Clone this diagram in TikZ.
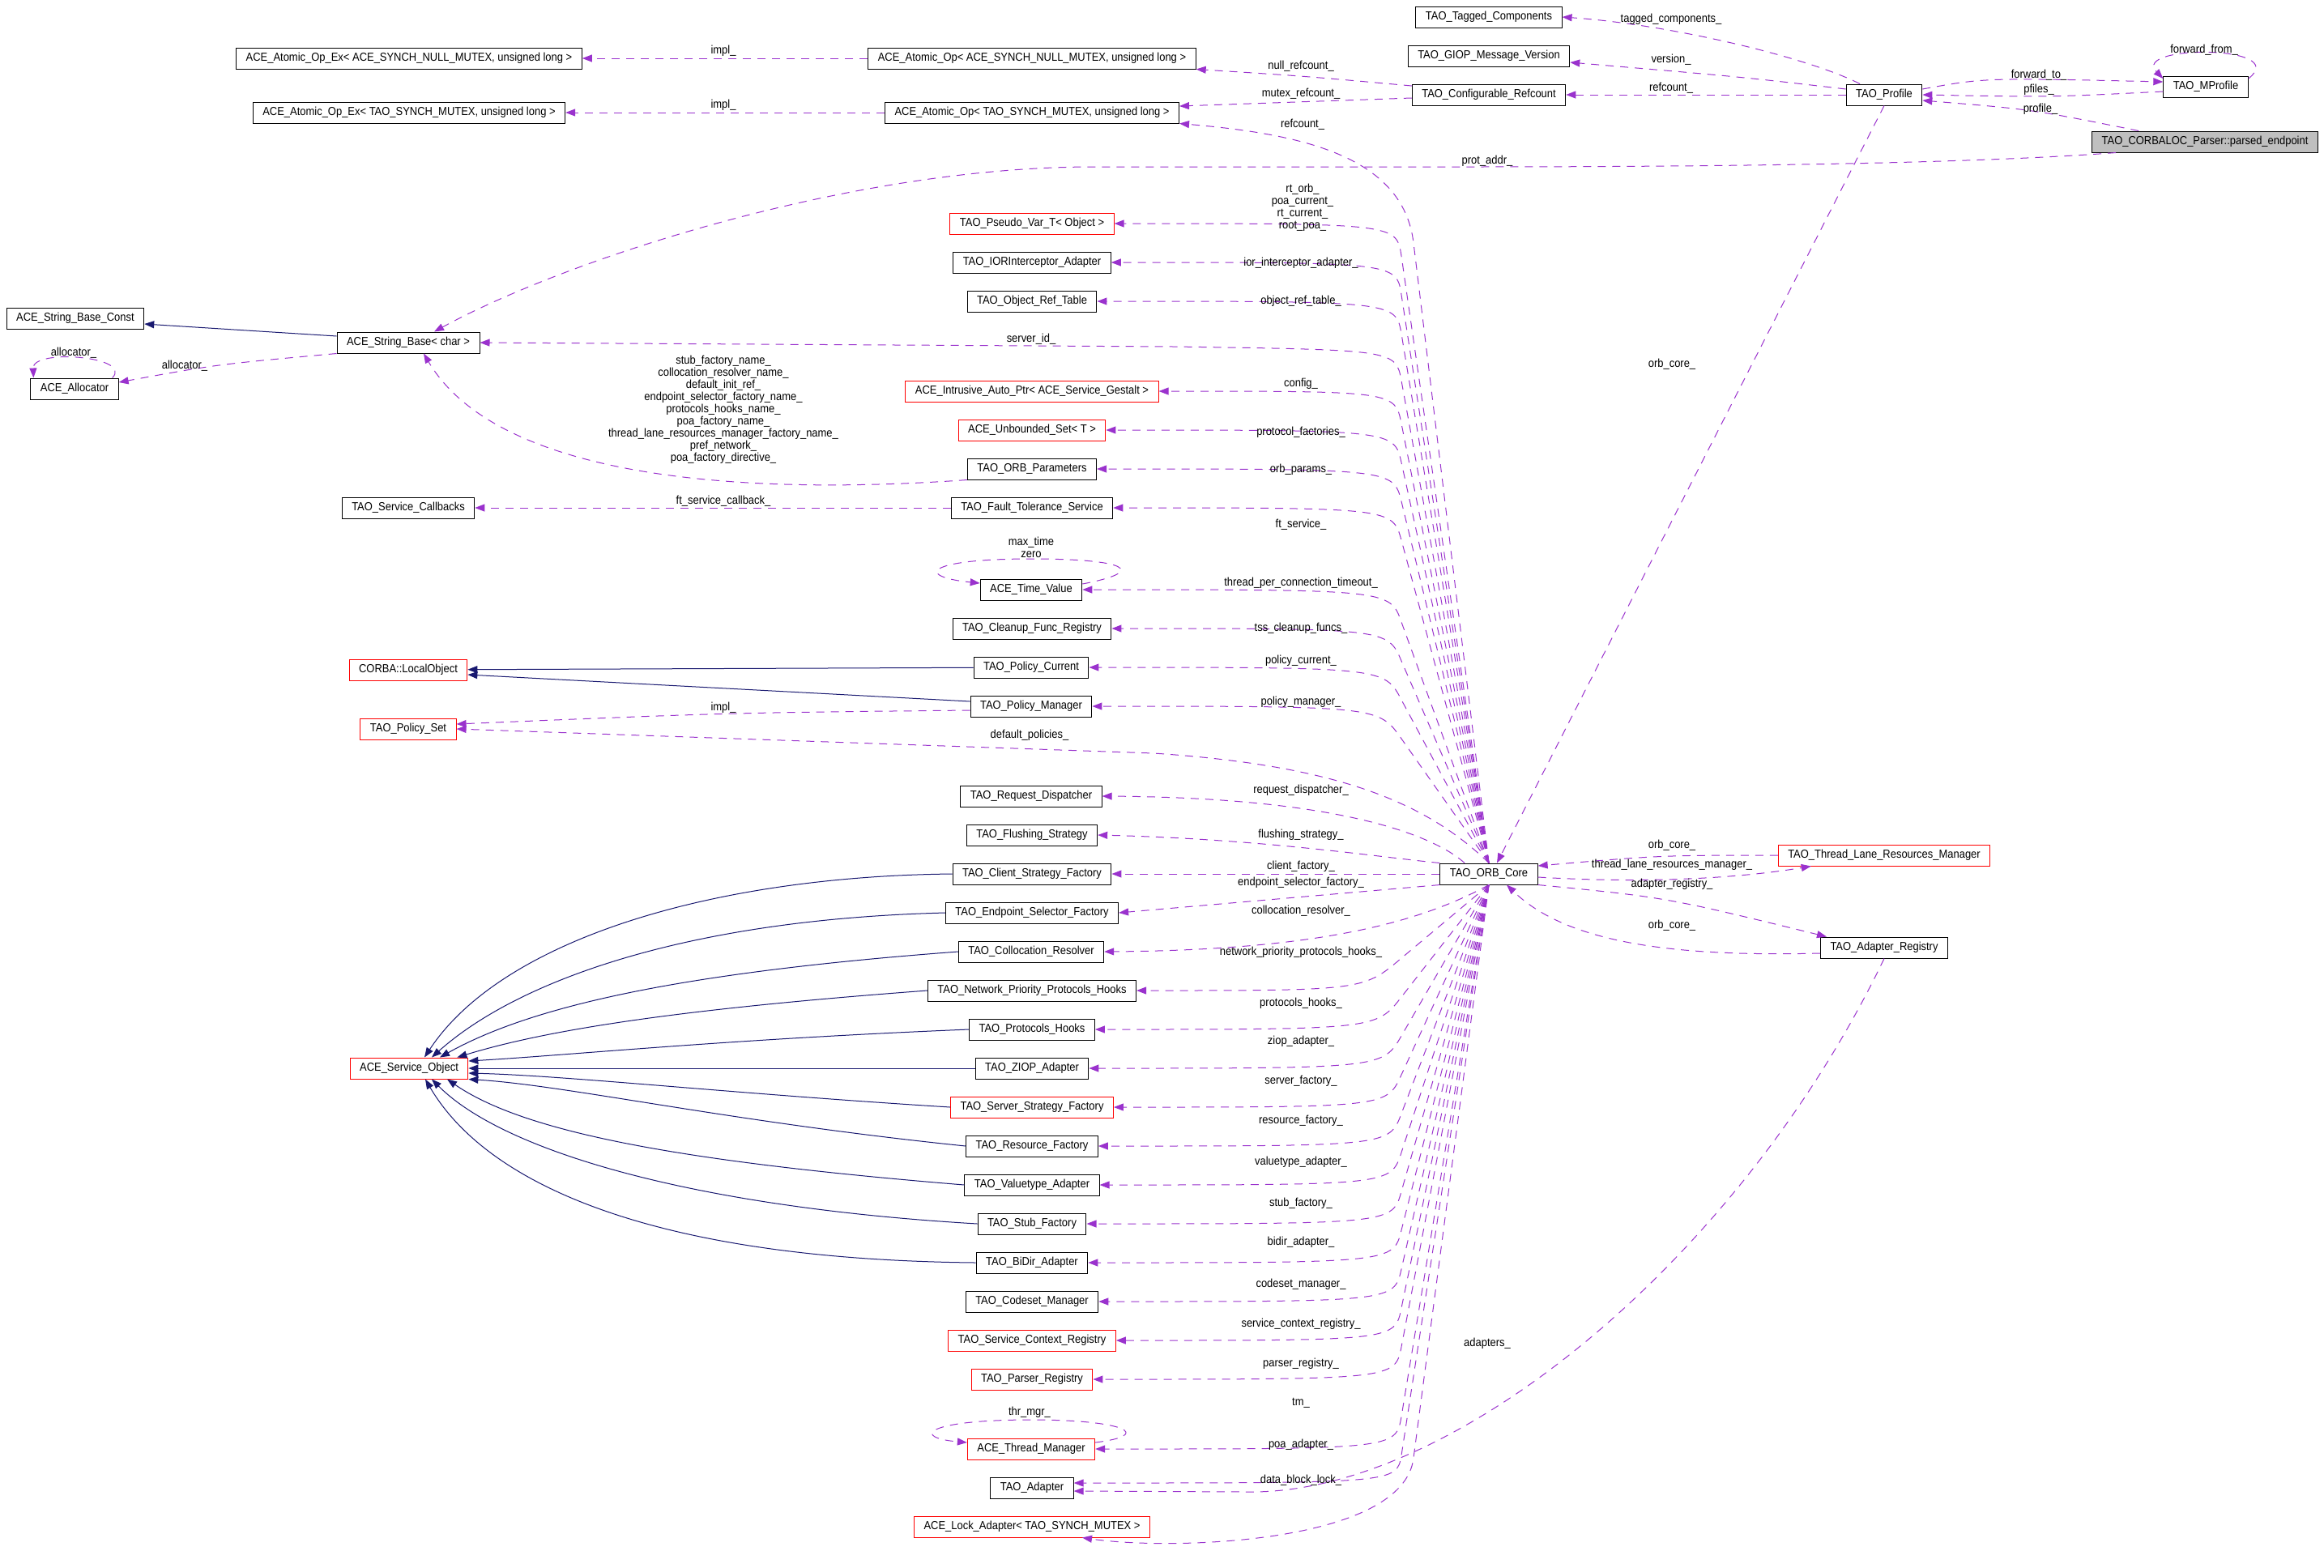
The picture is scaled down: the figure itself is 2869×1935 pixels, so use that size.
\documentclass[tikz,border=0pt]{standalone}
\usepackage{fontspec}
\setmainfont{Liberation Sans}[FakeStretch=0.9]
\usepackage{tikz}
\usetikzlibrary{arrows.meta, calc}

\definecolor{usecol}{HTML}{9A32CD}
\definecolor{inhcol}{HTML}{191970}
\definecolor{grey75}{HTML}{BFBFBF}

\begin{document}
\begin{tikzpicture}[
        x=0.5pt, y=-0.5pt,
        cls/.style={
            rectangle,
            draw=black,
            fill=white,
            line width=0.5pt,
            minimum height=13pt,
            inner xsep=6pt,
            inner ysep=0pt,
            font=\fontsize{7.2}{7.5}\selectfont
        },
        ext/.style={cls, draw=red},
        focus/.style={cls, fill=grey75},
        member/.style={draw=usecol, line width=0.5pt, dash pattern=on 5pt off 4pt,
            -{Triangle[length=6pt, width=4.5pt]}},
        inh/.style={draw=inhcol, line width=0.5pt, -{Triangle[length=6pt, width=4.5pt]}},
        lbl/.style={inner sep=0pt, align=center, font=\fontsize{7.2}{7.5}\selectfont}
    ]
    \useasboundingbox (0,0) rectangle (2869,1935);

    % Classes, left
    \node[cls] (strconst) at (93,393) {ACE\_String\_Base\_Const};
    \node[cls] (alloc) at (92,480) {ACE\_Allocator};
    \node[cls] (atomexnull) at (505,72) {ACE\_Atomic\_Op\_Ex< ACE\_SYNCH\_NULL\_MUTEX, unsigned long >};
    \node[cls] (atomextao) at (505,139) {ACE\_Atomic\_Op\_Ex< TAO\_SYNCH\_MUTEX, unsigned long >};
    \node[cls] (strbase) at (504,423) {ACE\_String\_Base< char >};
    \node[cls] (svccb) at (504,627) {TAO\_Service\_Callbacks};
    \node[ext] (localobj) at (504,827) {CORBA::LocalObject};
    \node[ext] (policyset) at (504,900) {TAO\_Policy\_Set};
    \node[ext] (svcobj) at (505,1319) {ACE\_Service\_Object};

    % Classes, middle
    \node[cls] (atomnull) at (1274,72) {ACE\_Atomic\_Op< ACE\_SYNCH\_NULL\_MUTEX, unsigned long >};
    \node[cls] (atomtao) at (1274,139) {ACE\_Atomic\_Op< TAO\_SYNCH\_MUTEX, unsigned long >};
    \node[ext] (pseudovar) at (1274,276) {TAO\_Pseudo\_Var\_T< Object >};
    \node[cls] (iorint) at (1274,324) {TAO\_IORInterceptor\_Adapter};
    \node[cls] (objref) at (1274,372) {TAO\_Object\_Ref\_Table};
    \node[ext] (gestalt) at (1274,483) {ACE\_Intrusive\_Auto\_Ptr< ACE\_Service\_Gestalt >};
    \node[ext] (unbset) at (1274,531) {ACE\_Unbounded\_Set< T >};
    \node[cls] (orbparams) at (1274,579) {TAO\_ORB\_Parameters};
    \node[cls] (ftservice) at (1274,627) {TAO\_Fault\_Tolerance\_Service};
    \node[cls] (timeval) at (1273,728) {ACE\_Time\_Value};
    \node[cls] (cleanup) at (1274,776) {TAO\_Cleanup\_Func\_Registry};
    \node[cls] (polcur) at (1273,824) {TAO\_Policy\_Current};
    \node[cls] (polmgr) at (1273,872) {TAO\_Policy\_Manager};
    \node[cls] (reqdisp) at (1273,983) {TAO\_Request\_Dispatcher};
    \node[cls] (flushing) at (1274,1031) {TAO\_Flushing\_Strategy};
    \node[cls] (clientfac) at (1274,1079) {TAO\_Client\_Strategy\_Factory};
    \node[cls] (endpointfac) at (1274,1127) {TAO\_Endpoint\_Selector\_Factory};
    \node[cls] (colloc) at (1273,1175) {TAO\_Collocation\_Resolver};
    \node[cls] (netprio) at (1274,1223) {TAO\_Network\_Priority\_Protocols\_Hooks};
    \node[cls] (prothooks) at (1274,1271) {TAO\_Protocols\_Hooks};
    \node[cls] (ziop) at (1274,1319) {TAO\_ZIOP\_Adapter};
    \node[ext] (serverfac) at (1274,1367) {TAO\_Server\_Strategy\_Factory};
    \node[cls] (resfac) at (1274,1415) {TAO\_Resource\_Factory};
    \node[cls] (valuetype) at (1274,1463) {TAO\_Valuetype\_Adapter};
    \node[cls] (stubfac) at (1274,1511) {TAO\_Stub\_Factory};
    \node[cls] (bidir) at (1274,1559) {TAO\_BiDir\_Adapter};
    \node[cls] (codeset) at (1274,1607) {TAO\_Codeset\_Manager};
    \node[ext] (svcctx) at (1274,1655) {TAO\_Service\_Context\_Registry};
    \node[ext] (parserreg) at (1274,1703) {TAO\_Parser\_Registry};
    \node[ext] (thrmgr) at (1273,1789) {ACE\_Thread\_Manager};
    \node[cls] (adapter) at (1274,1837) {TAO\_Adapter};
    \node[ext] (lockadapter) at (1274,1885) {ACE\_Lock\_Adapter< TAO\_SYNCH\_MUTEX >};

    % Classes, right
    \node[cls] (tagged) at (1838,21) {TAO\_Tagged\_Components};
    \node[cls] (giopver) at (1838,69) {TAO\_GIOP\_Message\_Version};
    \node[cls] (confref) at (1838,117) {TAO\_Configurable\_Refcount};
    \node[cls] (orbcore) at (1838,1079) {TAO\_ORB\_Core};
    \node[cls] (profile) at (2326,117) {TAO\_Profile};
    \node[ext] (tlrm) at (2326,1056) {TAO\_Thread\_Lane\_Resources\_Manager};
    \node[cls] (adapterreg) at (2326,1170) {TAO\_Adapter\_Registry};
    \node[cls] (mprofile) at (2723,107) {TAO\_MProfile};
    \node[focus] (parsed) at (2722,175) {TAO\_CORBALOC\_Parser::parsed\_endpoint};

    % Inheritance
    \draw[inh] ($(strbase.west)+(0,-8)$) -- ($(strconst.east)+(0,7)$);
    \draw[inh] (polcur) -- (localobj);
    \draw[inh] ($(polmgr.west)+(0,-6)$) -- ($(localobj.east)+(0,6)$);
    \draw[inh] (clientfac.west) .. controls (880,1082) and (620,1160) .. ($(svcobj.north)+(19,0)$);
    \draw[inh] (endpointfac.west) .. controls (850,1135) and (640,1210) .. ($(svcobj.north)+(28,0)$);
    \draw[inh] (colloc.west) .. controls (850,1200) and (660,1240) .. ($(svcobj.north)+(38,0)$);
    \draw[inh] (netprio.west) .. controls (850,1245) and (680,1270) .. ($(svcobj.north east)+(-14,0)$);
    \draw[inh] (prothooks.west) .. controls (900,1283) and (700,1303) .. ($(svcobj.east)+(0,-9)$);
    \draw[inh] (ziop) -- (svcobj);
    \draw[inh] (serverfac.west) .. controls (900,1350) and (700,1328) .. ($(svcobj.east)+(0,6)$);
    \draw[inh] (resfac.west) .. controls (900,1385) and (700,1340) .. (svcobj.south east);
    \draw[inh] (valuetype.west) .. controls (850,1435) and (650,1400) .. ($(svcobj.south)+(47,0)$);
    \draw[inh] (stubfac.west) .. controls (850,1490) and (620,1420) .. ($(svcobj.south)+(28,0)$);
    \draw[inh] (bidir.west) .. controls (800,1555) and (600,1460) .. ($(svcobj.south)+(20,0)$);

    % Members, top
    \draw[member] (atomnull) -- (atomexnull);
    \draw[member] (atomtao) -- (atomextao);
    \draw[member] ($(confref.west)+(0,-11)$) .. controls (1610,94) .. (atomnull.south east);
    \draw[member] ($(confref.west)+(0,4)$) -- ($(atomtao.east)+(0,-8)$);
    \draw[member] (orbcore.north) -- (1745,300) .. controls (1732,190) and (1600,165) .. (atomtao.south east);
    \draw[member] ($(profile.north)+(-30,0)$) .. controls (2230,70) and (2060,30) .. (tagged.east);
    \draw[member] ($(profile.west)+(0,-7)$) .. controls (2150,95) .. ($(giopver.east)+(0,8)$);
    \draw[member] (profile) -- (confref);
    \draw[member] ($(mprofile.east)+(0,-10)$) .. controls (2830,55) and (2630,55) .. ($(mprofile.west)+(0,-10)$);
    \draw[member] ($(profile.east)+(0,-7)$) .. controls (2450,96) .. ($(mprofile.west)+(0,-6)$);
    \draw[member] ($(mprofile.west)+(0,6)$) .. controls (2530,120) .. (profile.east);
    \draw[member] ($(parsed.north west)+(58,0)$) .. controls (2508,135) .. ($(profile.east)+(0,7)$);
    \draw[member] ($(parsed.south west)+(30,0)$) .. controls (2460,200) and (2200,206) .. (1800,206)
        -- (1350,206) .. controls (1050,206) and (700,320) .. ($(strbase.north)+(32,0)$);
    \draw[member] (profile.south) -- ($(orbcore.north)+(10,0)$);

    % Members, left
    \draw[member] (strbase.south west) .. controls (267,450) .. ($(alloc.east)+(0,-8)$);
    \draw[member] ($(alloc.north east)+(-8,0)$) .. controls (165,440) and (40,430) .. ($(alloc.north west)+(4,0)$);
    \draw[member] (orbparams.south west) .. controls (950,610) and (620,600) .. ($(strbase.south)+(19,0)$);
    \draw[member] (orbcore.north) -- (1730,470) .. controls (1723,432) .. (1450,428) -- (strbase.east);
    \draw[member] (ftservice) -- (svccb);
    \draw[member] ($(polmgr.west)+(0,5)$) .. controls (900,880) .. ($(policyset.east)+(0,-6)$);
    \draw[member] (orbcore.north) .. controls (1760,990) and (1650,945) .. (1424,930) -- (policyset.east);

    % Members of TAO_ORB_Core, above
    \draw[member] (orbcore.north) -- (1730,316) .. controls (1724,276) .. (pseudovar.east);
    \draw[member] (orbcore.north) -- (1730,364) .. controls (1724,324) .. (iorint.east);
    \draw[member] (orbcore.north) -- (1730,412) .. controls (1723,372) .. (objref.east);
    \draw[member] (orbcore.north) -- (1730,523) .. controls (1722,483) .. (gestalt.east);
    \draw[member] (orbcore.north) -- (1730,571) .. controls (1721,531) .. (unbset.east);
    \draw[member] (orbcore.north) -- (1730,619) .. controls (1720,579) .. (orbparams.east);
    \draw[member] (orbcore.north) -- (1730,667) .. controls (1719,627) .. (ftservice.east);
    \draw[member] (orbcore.north) -- (1730,768) .. controls (1716,728) .. (timeval.east);
    \draw[member] (orbcore.north) -- (1730,816) .. controls (1713,776) .. (cleanup.east);
    \draw[member] (orbcore.north) -- (1730,864) .. controls (1709,824) .. (polcur.east);
    \draw[member] (orbcore.north) -- (1730,912) .. controls (1702,872) .. (polmgr.east);
    \draw[member] ($(orbcore.north)+(-30,0)$) .. controls (1780,1040) and (1680,985) .. (reqdisp.east);
    \draw[member] (orbcore.north west) .. controls (1700,1058) and (1560,1036) .. (flushing.east);
    \draw[member] (orbcore) -- (clientfac);

    % Members of TAO_ORB_Core, below
    \draw[member] (orbcore.south west) -- (endpointfac.east);
    \draw[member] (orbcore.south) .. controls (1760,1135) and (1640,1173) .. (colloc.east);
    \draw[member] (orbcore.south) -- (1730,1183) .. controls (1683,1223) .. (netprio.east);
    \draw[member] (orbcore.south) -- (1730,1231) .. controls (1699,1271) .. (prothooks.east);
    \draw[member] (orbcore.south) -- (1730,1279) .. controls (1707,1319) .. (ziop.east);
    \draw[member] (orbcore.south) -- (1730,1327) .. controls (1712,1367) .. (serverfac.east);
    \draw[member] (orbcore.south) -- (1730,1375) .. controls (1715,1415) .. (resfac.east);
    \draw[member] (orbcore.south) -- (1730,1423) .. controls (1717,1463) .. (valuetype.east);
    \draw[member] (orbcore.south) -- (1730,1471) .. controls (1719,1511) .. (stubfac.east);
    \draw[member] (orbcore.south) -- (1730,1519) .. controls (1720,1559) .. (bidir.east);
    \draw[member] (orbcore.south) -- (1730,1567) .. controls (1721,1607) .. (codeset.east);
    \draw[member] (orbcore.south) -- (1730,1615) .. controls (1722,1655) .. (svcctx.east);
    \draw[member] (orbcore.south) -- (1730,1663) .. controls (1722,1703) .. (parserreg.east);
    \draw[member] (orbcore.south) -- (1730,1749) .. controls (1723,1789) .. (thrmgr.east);
    \draw[member] (orbcore.south) -- (1730,1797) .. controls (1724,1831) .. ($(adapter.east)+(0,-6)$);
    \draw[member] (orbcore.south) -- (1745,1800) .. controls (1733,1905) and (1450,1915) .. ($(lockadapter.south)+(62,0)$);

    % Self references
    \draw[member] ($(timeval.east)+(0,-7)$) .. controls (1420,705) and (1390,690) .. (1273,690)
        .. controls (1140,690) and (1130,712) .. ($(timeval.west)+(0,-8)$);
    \draw[member] ($(thrmgr.east)+(0,-8)$) .. controls (1425,1772) and (1390,1753) .. (1273,1753)
        .. controls (1140,1753) and (1125,1775) .. ($(thrmgr.west)+(0,-8)$);

    % Members, right
    \draw[member] (tlrm.west) .. controls (2050,1056) .. ($(orbcore.east)+(0,-10)$);
    \draw[member] ($(orbcore.east)+(0,4)$) .. controls (2050,1092) and (2160,1082) .. ($(tlrm.south west)+(41,0)$);
    \draw[member] (orbcore.south east) .. controls (2057,1108) .. ($(adapterreg.north west)+(8,0)$);
    \draw[member] ($(adapterreg.west)+(0,7)$) .. controls (2050,1182) and (1930,1160) .. ($(orbcore.south)+(22,0)$);
    \draw[member] (adapterreg.south) .. controls (2150,1550) and (1800,1842) .. (1545,1842) -- ($(adapter.east)+(0,4)$);

    % Labels
    \node[lbl] (limplnull) at (893,63) {impl\_};
    \node[lbl] (limpltao) at (893,130) {impl\_};
    \node[lbl] (lnullref) at (1606,82) {null\_refcount\_};
    \node[lbl] (lmutexref) at (1606,116) {mutex\_refcount\_};
    \node[lbl] (lrefcount) at (1608,154) {refcount\_};
    \node[lbl] (ltagged) at (2063,24) {tagged\_components\_};
    \node[lbl] (lversion) at (2063,74) {version\_};
    \node[lbl] (lprofref) at (2063,109) {refcount\_};
    \node[lbl] (lfwdfrom) at (2721,62) {forward\_from\_};
    \node[lbl] (lfwdto) at (2517,93) {forward\_to\_};
    \node[lbl] (lpfiles) at (2517,111) {pfiles\_};
    \node[lbl] (lprofile) at (2519,135) {profile\_};
    \node[lbl] (lprotaddr) at (1836,199) {prot\_addr\_};
    \node[lbl] (lorbcoreprof) at (2064,450) {orb\_core\_};
    \node[lbl] (lallocself) at (91,436) {allocator\_};
    \node[lbl] (lalloc) at (228,452) {allocator\_};
    \node[lbl] (lparams) at (893,506) {stub\_factory\_name\_\\collocation\_resolver\_name\_\\default\_init\_ref\_\\endpoint\_selector\_factory\_name\_\\protocols\_hooks\_name\_\\poa\_factory\_name\_\\thread\_lane\_resources\_manager\_factory\_name\_\\pref\_network\_\\poa\_factory\_directive\_};
    \node[lbl] (lserverid) at (1273,419) {server\_id\_};
    \node[lbl] (lftcb) at (893,619) {ft\_service\_callback\_};
    \node[lbl] (lrtorb) at (1608,256) {rt\_orb\_\\poa\_current\_\\rt\_current\_\\root\_poa\_};
    \node[lbl] (lior) at (1606,325) {ior\_interceptor\_adapter\_};
    \node[lbl] (lobjref) at (1606,372) {object\_ref\_table\_};
    \node[lbl] (lconfig) at (1606,474) {config\_};
    \node[lbl] (lprotfac) at (1606,534) {protocol\_factories\_};
    \node[lbl] (lorbparams) at (1606,580) {orb\_params\_};
    \node[lbl] (lftservice) at (1606,648) {ft\_service\_};
    \node[lbl] (lmaxtime) at (1273,676) {max\_time\\zero};
    \node[lbl] (ltimeout) at (1606,720) {thread\_per\_connection\_timeout\_};
    \node[lbl] (ltss) at (1606,776) {tss\_cleanup\_funcs\_};
    \node[lbl] (lpolcur) at (1606,816) {policy\_current\_};
    \node[lbl] (lpolmgr) at (1606,867) {policy\_manager\_};
    \node[lbl] (limplpol) at (893,874) {impl\_};
    \node[lbl] (ldefpol) at (1271,908) {default\_policies\_};
    \node[lbl] (lreqdisp) at (1606,976) {request\_dispatcher\_};
    \node[lbl] (lflush) at (1606,1031) {flushing\_strategy\_};
    \node[lbl] (lclient) at (1606,1070) {client\_factory\_};
    \node[lbl] (lendpoint) at (1606,1090) {endpoint\_selector\_factory\_};
    \node[lbl] (lcolloc) at (1606,1125) {collocation\_resolver\_};
    \node[lbl] (lnetprio) at (1606,1176) {network\_priority\_protocols\_hooks\_};
    \node[lbl] (lprothooks) at (1606,1239) {protocols\_hooks\_};
    \node[lbl] (lziop) at (1606,1286) {ziop\_adapter\_};
    \node[lbl] (lserverfac) at (1606,1335) {server\_factory\_};
    \node[lbl] (lresfac) at (1606,1384) {resource\_factory\_};
    \node[lbl] (lvaluetype) at (1606,1435) {valuetype\_adapter\_};
    \node[lbl] (lstubfac) at (1606,1486) {stub\_factory\_};
    \node[lbl] (lbidir) at (1606,1534) {bidir\_adapter\_};
    \node[lbl] (lcodeset) at (1606,1586) {codeset\_manager\_};
    \node[lbl] (lsvcctx) at (1606,1635) {service\_context\_registry\_};
    \node[lbl] (lparser) at (1606,1684) {parser\_registry\_};
    \node[lbl] (ltm) at (1606,1732) {tm\_};
    \node[lbl] (lthrmgr) at (1271,1744) {thr\_mgr\_};
    \node[lbl] (lpoa) at (1606,1784) {poa\_adapter\_};
    \node[lbl] (llock) at (1606,1828) {data\_block\_lock\_};
    \node[lbl] (ladapters) at (1836,1659) {adapters\_};
    \node[lbl] (lorbcoretl) at (2064,1044) {orb\_core\_};
    \node[lbl] (ltlrm) at (2064,1068) {thread\_lane\_resources\_manager\_};
    \node[lbl] (ladreg) at (2064,1092) {adapter\_registry\_};
    \node[lbl] (lorbcoreadr) at (2064,1143) {orb\_core\_};

\end{tikzpicture}
\end{document}
